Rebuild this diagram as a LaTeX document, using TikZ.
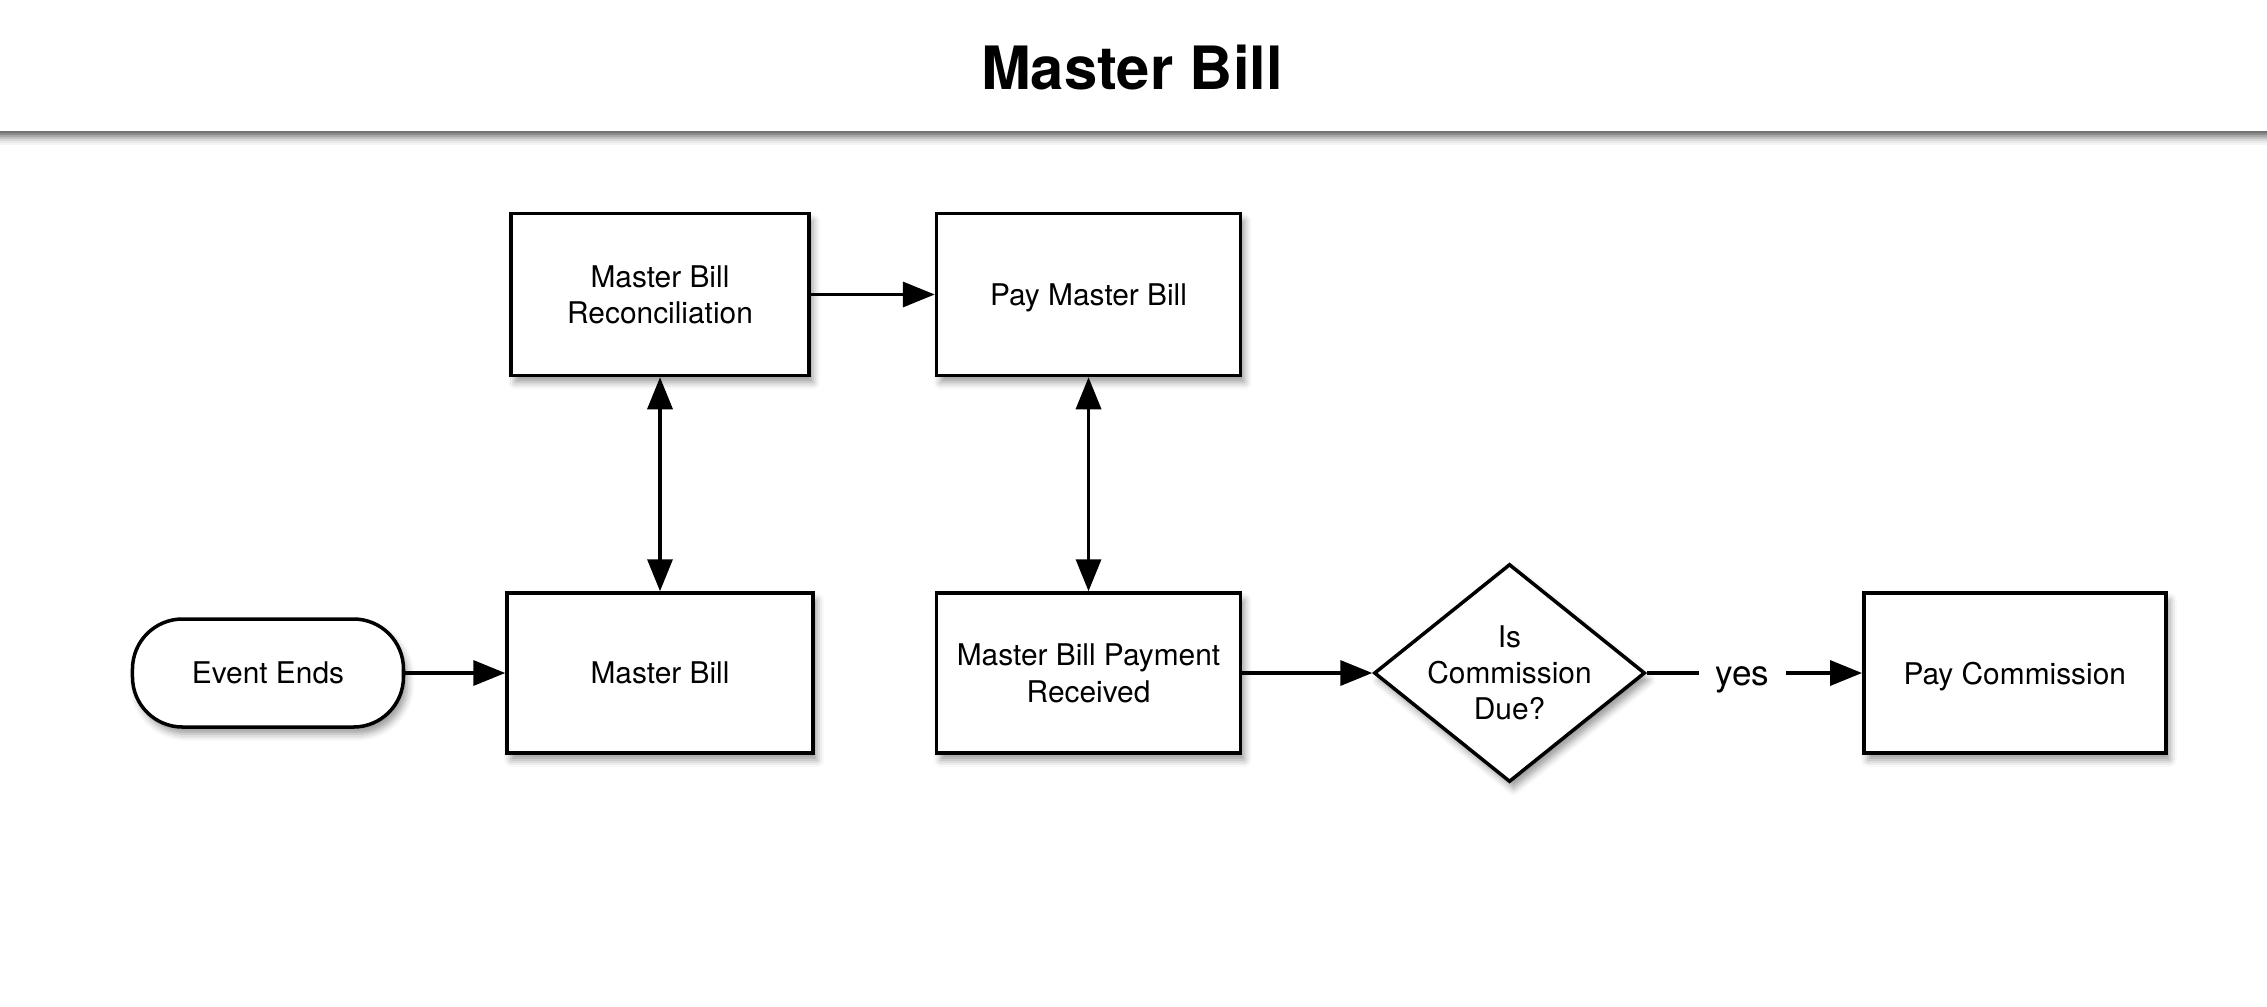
\documentclass[tikz,border=0pt]{standalone}
\usepackage{fontspec}
\setmainfont{TeX Gyre Heros}
\usepackage{tikz}
\usetikzlibrary{positioning,arrows.meta,shapes.geometric,shadows.blur}

\begin{document}
\begin{tikzpicture}[
    node distance=1.2cm,
    font=\fontsize{8.5}{10.3}\selectfont,
    shade/.style={blur shadow={shadow xshift=0.4mm, shadow yshift=-0.7mm, shadow blur radius=0.7mm, shadow opacity=40}},
    component/.style={rectangle, draw, line width=1pt, fill=white, minimum width=3.04cm, minimum height=1.6cm, text depth=0pt, align=center, shade},
    terminal/.style={rectangle, rounded corners=5mm, draw, line width=1pt, fill=white, minimum width=2.71cm, minimum height=1.08cm, shade},
    decision/.style={diamond, draw, line width=1pt, fill=white, minimum width=2.71cm, minimum height=2.18cm, inner sep=0pt, shade},
    arrow/.style={-{Triangle[length=3.2mm, width=2.5mm]}, line width=1pt},
    twoway/.style={{Triangle[length=3.2mm, width=2.5mm]}-{Triangle[length=3.2mm, width=2.5mm]}, line width=1pt}
]
    \useasboundingbox (0,0) rectangle (22.67,10.06);
    \node[font=\fontsize{17}{20}\selectfont\bfseries] (heading) at (11.32,9.38) {Master Bill};
    \foreach \i/\g in {0/55,1/45,2/34,3/24,4/15,5/8,6/4}
        \fill[black!\g] (0,{8.73-\i*0.02}) rectangle (22.67,{8.75-\i*0.02});

    \node[component, minimum width=3.06cm] (mb) at (6.60,3.33) {Master Bill};
    \node[terminal, left=1.0cm of mb] (event) {Event Ends};
    \node[component, minimum width=2.98cm, minimum height=1.62cm, above=2.14cm of mb] (recon) {Master Bill\\Reconciliation};
    \node[component, right=1.2cm of mb] (mbpr) {Master Bill Payment\\Received};
    \node[component, minimum height=1.62cm, above=2.14cm of mbpr] (paymb) {Pay Master Bill};
    \node[decision, right=1.3cm of mbpr, label={[align=center]center:Is\\Commission\\Due?}] (due) {};
    \node[font=\fontsize{10}{12}\selectfont, text height=0.9em, text depth=0.21em, inner xsep=1.6mm, right=0.52cm of due] (yes) {yes};
    \node[component, minimum width=3.02cm, right=0.76cm of yes] (paycomm) {Pay Commission};

    \draw[arrow] (event) -- (mb);
    \draw[twoway] (recon) -- (mb);
    \draw[arrow] (recon) -- (paymb);
    \draw[twoway] (paymb) -- (mbpr);
    \draw[arrow] (mbpr) -- (due);
    \draw[line width=1pt] (due) -- (yes);
    \draw[arrow] (yes) -- (paycomm);
\end{tikzpicture}
\end{document}
